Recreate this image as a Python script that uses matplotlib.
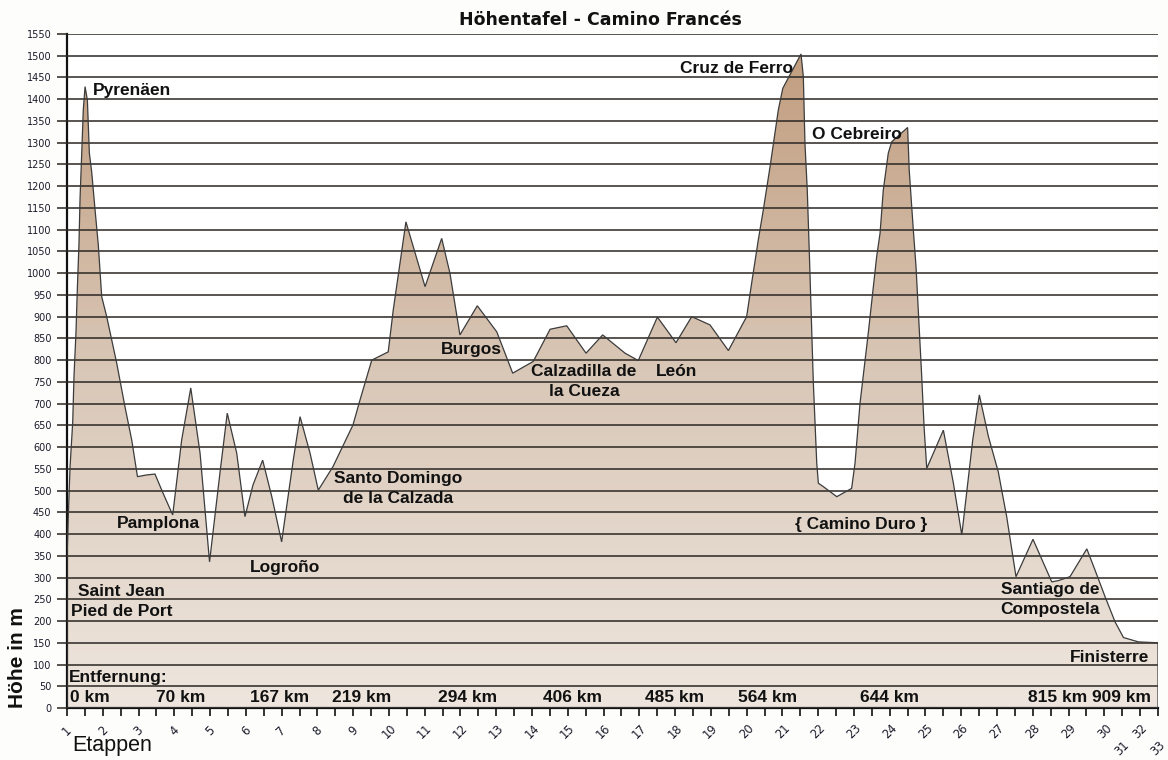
import numpy as np
import matplotlib
matplotlib.use("Agg")
import matplotlib.pyplot as plt
from matplotlib.patches import Polygon
from matplotlib.colors import LinearSegmentedColormap
from matplotlib.transforms import ScaledTranslation

# ---- data -------------------------------------------------------------
title = "Höhentafel - Camino Francés"
# position along the stage axis (one unit = one tick, i.e. half a stage)
profile_pos = [0, 0.08, 0.17, 0.32, 0.39, 0.50, 0.58, 0.67, 0.73, 0.82, 0.91, 1.01,
               1.14, 1.25, 1.38, 1.57, 1.75, 1.94, 2.22, 2.78, 3.24, 3.62, 3.94,
               4.46, 4.92, 5.37, 5.91, 6.41, 6.92, 7.44, 7.97, 8.55, 8.96, 9.49,
               9.95, 10.40, 10.94, 11.45, 12.00, 12.65, 13.03, 13.59, 14.05, 14.87,
               15.99, 16.38, 17.04, 17.96, 18.24, 18.95, 20.02, 20.95, 21.41, 21.97,
               22.94, 24.03, 24.92, 26.07, 27.01, 27.94, 29.02, 29.95, 31.20, 31.94,
               33.01, 34.05, 34.93, 35.95, 36.98, 38.00, 38.28, 38.65, 38.93, 39.31,
               39.77, 40.02, 41.04, 41.17, 41.26, 41.39, 41.51, 41.73, 41.92, 42.01,
               42.29, 43.04, 43.87, 44.06, 44.34, 44.80, 45.27, 45.46, 45.64, 45.92,
               46.11, 47.00, 47.09, 47.32, 47.47, 47.79, 47.92, 48.07, 49.00, 49.56,
               50.03, 50.64, 51.01, 51.52, 52.07, 52.54, 53.06, 54.01, 55.06, 55.43,
               56.08, 57.02, 57.48, 58.04, 58.60, 59.07, 59.91, 61.0]
profile_elev = [340, 450, 554, 658, 762, 862, 966, 1069, 1173, 1272, 1375, 1429,
                1398, 1276, 1233, 1145, 1065, 946, 900, 793, 693, 616, 532,
                536, 538, 494, 444, 616, 736, 586, 336, 540, 678, 586,
                440, 513, 570, 486, 382, 570, 670, 586, 501, 555,
                651, 708, 800, 819, 915, 1118, 969, 1080, 1000, 858,
                925, 865, 770, 797, 871, 879, 816, 858, 816, 799,
                899, 840, 900, 881, 822, 900, 977, 1076, 1145, 1245,
                1375, 1425, 1504, 1452, 1299, 1191, 1040, 747, 563, 517,
                509, 486, 505, 563, 701, 862, 1038, 1092, 1191, 1276,
                1302, 1335, 1237, 1099, 1015, 762, 647, 551, 639, 517,
                398, 616, 720, 624, 543, 440, 302, 388, 290, 293,
                302, 366, 317, 256, 198, 162, 152, 150]

stage_labels = [str(k) for k in range(1, 34)]
stage_pos = [2 * (k - 1) for k in range(1, 31)] + [59, 60, 61]
stage_low = ["31", "33"]  # staggered labels

y_ticks = list(range(0, 1551, 50))

distance_labels = ["0 km", "70 km", "167 km", "219 km", "294 km", "406 km",
                   "485 km", "564 km", "644 km", "815 km", "909 km"]
distance_pos = [0.15, 5.0, 10.25, 14.8, 20.75, 26.6, 32.3, 37.5, 44.35, 53.75, 57.3]

# ---- figure -----------------------------------------------------------
W, H = 1168, 760
fig = plt.figure(figsize=(W / 100, H / 100), dpi=100, facecolor="#fdfdfc")
L, R, T, B = 67, 1158, 34, 708
ax = fig.add_axes([L / W, 1 - B / H, (R - L) / W, (B - T) / H])
ax.set_facecolor("#ffffff")

xmax = stage_pos[-1]
ymax = y_ticks[-1]

# gradient fill clipped to the profile
cmap = LinearSegmentedColormap.from_list("earth", ["#eee6de", "#d9c7b7", "#c09b7c"])
grad = np.linspace(0, 1, 256).reshape(-1, 1)
im = ax.imshow(grad, extent=[0, xmax, 0, ymax], origin="lower", aspect="auto",
               cmap=cmap, zorder=1, interpolation="bilinear")
verts = [(profile_pos[0], 0)] + list(zip(profile_pos, profile_elev)) + [(profile_pos[-1], 0)]
poly = Polygon(verts, closed=True, facecolor="none", edgecolor="#3c3c3c",
               lw=0.9, zorder=3)
ax.add_patch(poly)
im.set_clip_path(poly)

ax.set_xlim(0, xmax)
ax.set_ylim(0, ymax)

# y axis: gridlines + outward ticks
grid_col = "#2a2622"
ax.set_yticks(y_ticks)
ax.set_yticklabels([str(v) for v in y_ticks], fontsize=7, color="#1a1a2a")
ax.yaxis.grid(True, color=grid_col, lw=1.1, zorder=2)
ax.tick_params(axis="y", length=7.2, width=1.1, color=grid_col, pad=4)
ax.set_axisbelow(False)

# x axis: ticks at every half stage, labels at stages
ax.set_xticks(range(0, xmax + 1))
lab = [""] * (xmax + 1)
for s, p in zip(stage_labels, stage_pos):
    lab[p] = s
ax.set_xticklabels(lab, rotation=45, ha="center", va="center", fontsize=8.3,
                   color="#1a1a2a")
ax.tick_params(axis="x", length=6, width=1.2, color="#111111", pad=10.5)
for t in ax.get_xticklabels():
    if t.get_text() in stage_low:
        t.set_transform(t.get_transform() + ScaledTranslation(0, -0.17, fig.dpi_scale_trans))

for sp in ["top", "right"]:
    ax.spines[sp].set_visible(False)
ax.spines["left"].set_linewidth(1.6)
ax.spines["bottom"].set_linewidth(1.6)
ax.spines["left"].set_color("#111111")
ax.spines["bottom"].set_color("#111111")

# ---- texts ------------------------------------------------------------
FB = dict(family=["Liberation Sans", "DejaVu Sans"], fontweight="bold",
          color="#111111", zorder=5)
fs = 12.5

fig.text(0.514, 1 - 20 / H, title, ha="center", va="center", fontsize=12.5,
         family=["DejaVu Sans"], fontweight="bold", color="#111111")
fig.text(18 / W, 1 - 658 / H, "Höhe in m", rotation=90, ha="center", va="center",
         fontsize=15, **{k: v for k, v in FB.items() if k != "zorder"})
fig.text(72 / W, 1 - 746 / H, "Etappen", ha="left", va="center", fontsize=15.5,
         family=["Liberation Sans", "DejaVu Sans"], color="#111111")

def ann(x, y, s, ha="left"):
    ax.text(x, y, s, ha=ha, va="center", fontsize=fs, **FB)

ann(1.45, 1420, "Pyrenäen")
ann(2.8, 425, "Pamplona")
ann(0.6, 268, "Saint Jean")
ann(0.25, 222, "Pied de Port")
ann(10.2, 322, "Logroño")
ann(18.5, 528, "Santo Domingo", ha="center")
ann(18.5, 482, "de la Calzada", ha="center")
ann(20.9, 825, "Burgos")
ann(28.9, 775, "Calzadilla de", ha="center")
ann(28.9, 729, "la Cueza", ha="center")
ann(32.95, 773, "León")
ann(40.6, 1470, "Cruz de Ferro", ha="right")
ann(41.65, 1318, "O Cebreiro")
ann(44.4, 422, "{ Camino Duro }", ha="center")
ann(52.2, 272, "Santiago de")
ann(52.2, 226, "Compostela")
ann(56.1, 117, "Finisterre")
ann(0.1, 71, "Entfernung:")
for s, p in zip(distance_labels, distance_pos):
    ann(p, 25, s)

fig.savefig("out.png", dpi=100, facecolor=fig.get_facecolor())
